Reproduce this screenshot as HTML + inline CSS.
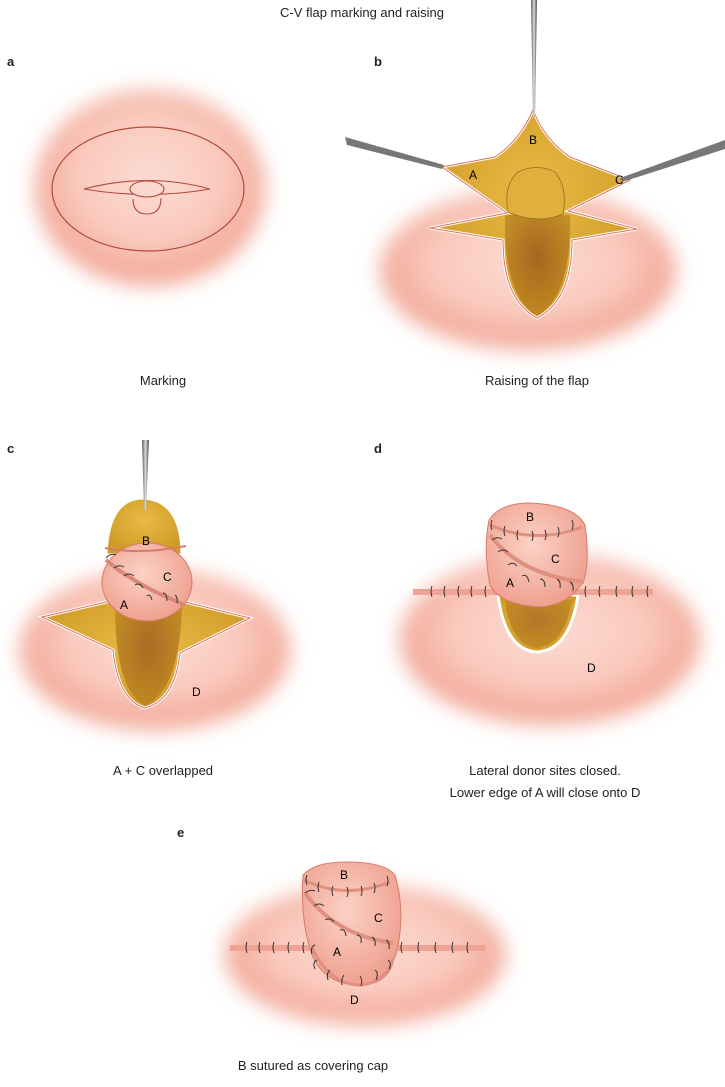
<!DOCTYPE html>
<html><head><meta charset="utf-8"><style>
html,body{margin:0;padding:0;background:#fff;}
svg{display:block;font-family:"Liberation Sans",sans-serif;}
</style></head><body>
<svg width="725" height="1087" viewBox="0 0 725 1087" xmlns="http://www.w3.org/2000/svg">
<defs>
<filter id="bl" x="-30%" y="-30%" width="160%" height="160%"><feGaussianBlur stdDeviation="10"/></filter>
<radialGradient id="sk" cx="50%" cy="45%" r="50%"><stop offset="0" stop-color="#fcdcd3"/><stop offset="0.65" stop-color="#fac9bd"/><stop offset="1" stop-color="#f2a898"/></radialGradient>
<radialGradient id="fat" cx="50%" cy="40%" r="60%"><stop offset="0" stop-color="#e8bb45"/><stop offset="1" stop-color="#cf9a26"/></radialGradient>
<radialGradient id="dk" cx="50%" cy="40%" r="60%"><stop offset="0" stop-color="#8e4a16"/><stop offset="1" stop-color="#b9801e"/></radialGradient>
<radialGradient id="fl" cx="45%" cy="40%" r="65%"><stop offset="0" stop-color="#fbd2c6"/><stop offset="1" stop-color="#ee9d8c"/></radialGradient>
<linearGradient id="inst" x1="0" x2="1"><stop offset="0" stop-color="#555"/><stop offset="0.5" stop-color="#ddd"/><stop offset="1" stop-color="#444"/></linearGradient>
</defs>
<g font-size="13" fill="#222">
<text x="362" y="17" text-anchor="middle">C-V flap marking and raising</text>
<text x="7" y="66" font-weight="bold">a</text>
<text x="374" y="66" font-weight="bold">b</text>
<text x="7" y="453" font-weight="bold">c</text>
<text x="374" y="453" font-weight="bold">d</text>
<text x="177" y="837" font-weight="bold">e</text>
<text x="163" y="385" text-anchor="middle">Marking</text>
<text x="537" y="385" text-anchor="middle">Raising of the flap</text>
<text x="163" y="775" text-anchor="middle">A + C overlapped</text>
<text x="545" y="775" text-anchor="middle">Lateral donor sites closed.</text>
<text x="545" y="797" text-anchor="middle">Lower edge of A will close onto D</text>
<text x="313" y="1070" text-anchor="middle">B sutured as covering cap</text>
</g>

<!-- a -->
<ellipse cx="150" cy="188" rx="115" ry="98" fill="url(#sk)" filter="url(#bl)"/>
<ellipse cx="148" cy="189" rx="96" ry="62" fill="none" stroke="#b24a3c" stroke-width="1.2"/>
<path d="M84 189 Q148 172 210 189 Q148 200 84 189Z" fill="none" stroke="#b24a3c" stroke-width="1.1"/>
<ellipse cx="147" cy="189" rx="17" ry="8" fill="#fbd8ce" stroke="#b24a3c" stroke-width="1.1"/>
<path d="M133 199 Q133 214 147 214 Q161 214 161 198" fill="none" stroke="#b24a3c" stroke-width="1.1"/>

<!-- b -->
<ellipse cx="528" cy="270" rx="148" ry="80" fill="url(#sk)" filter="url(#bl)"/>
<path id="bstar" d="M442 167 L495 157 Q520 140 533 110 Q545 140 570 157 L630 180 L568 211 L637 229 L572 240 Q572 300 537 318 Q503 300 503 240 L430 228 L507 213Z" fill="url(#fat)" stroke="#fff" stroke-width="3"/>
<path d="M442 167 L495 157 Q520 140 533 110 Q545 140 570 157 L630 180 L568 211 L637 229 L572 240 Q572 300 537 318 Q503 300 503 240 L430 228 L507 213Z" fill="none" stroke="#d9755e" stroke-width="1"/>
<path d="M505 215 L570 215 Q572 295 537 316 Q503 295 505 215Z" fill="url(#dk)" opacity="0.7"/>
<path d="M508 212 Q503 185 518 172 Q537 163 555 172 Q568 188 563 214 Q537 225 508 212Z" fill="#e0b03e" stroke="#9b6a1e" stroke-width="0.8"/>
<text x="529" y="144" font-size="12">B</text><text x="469" y="179" font-size="12">A</text><text x="615" y="184" font-size="12">C</text>
<polygon points="531,0 537,0 535,118 533,118" fill="url(#inst)"/>
<polygon points="345,137 347,145 442,169 444,165" fill="#777"/>
<polygon points="725,140 725,149 622,182 620,178" fill="#777"/>

<!-- c -->
<ellipse cx="155" cy="650" rx="135" ry="80" fill="url(#sk)" filter="url(#bl)"/>
<path d="M42 617 L115 600 L185 602 L250 618 L180 653 Q175 700 145 708 Q118 700 113 650Z" fill="url(#fat)" stroke="#fff" stroke-width="3"/>
<path d="M42 617 L115 600 L185 602 L250 618 L180 653 Q175 700 145 708 Q118 700 113 650Z" fill="none" stroke="#d9755e" stroke-width="1"/>
<path d="M115 605 L182 605 Q180 690 145 706 Q115 690 115 605Z" fill="url(#dk)" opacity="0.7"/>
<path d="M106 555 Q108 498 143 498 Q182 500 182 555Z" fill="url(#fat)" stroke="#fff" stroke-width="3"/>
<ellipse cx="147" cy="582" rx="45" ry="39" fill="url(#fl)" stroke="#d97b68" stroke-width="1"/>
<path d="M105 548 Q140 555 186 546" fill="none" stroke="#d97b68" stroke-width="2"/>
<path d="M106 560 Q135 585 185 605" fill="none" stroke="#d98878" stroke-width="4"/>
<g fill="none" stroke="#333" stroke-width="1"><path d="M106 558 q4 -5 10 -3"/><path d="M114 568 q5 -4 10 -1"/><path d="M124 576 q5 -4 10 0"/><path d="M135 585 q5 -3 8 3"/><path d="M147 596 q3 -3 5 4"/><path d="M163 593 q4 0 4 8"/><path d="M175 595 q3 2 2 8"/></g>
<text x="142" y="545" font-size="12">B</text><text x="163" y="581" font-size="12">C</text><text x="120" y="609" font-size="12">A</text><text x="192" y="696" font-size="12">D</text>
<polygon points="142,440 149,440 146,510 144,510" fill="url(#inst)"/>

<!-- d -->
<ellipse cx="550" cy="640" rx="150" ry="85" fill="url(#sk)" filter="url(#bl)"/>
<path d="M498 595 L578 595 Q570 650 537 652 Q505 650 498 595Z" fill="url(#fat)" stroke="#fff" stroke-width="3"/>
<path d="M505 600 L572 600 Q565 645 537 648 Q510 645 505 600Z" fill="url(#dk)" opacity="0.6"/>
<rect x="413" y="589" width="240" height="6" fill="#eea394"/>
<g stroke="#333" stroke-width="1" fill="none"><path d="M432 586 q-2 5 0 11"/><path d="M445 586 q-2 5 0 11"/><path d="M459 586 q-2 5 0 11"/><path d="M472 586 q-2 5 0 11"/><path d="M486 586 q-2 5 0 11"/><path d="M586 586 q-2 5 0 11"/><path d="M600 586 q-2 5 0 11"/><path d="M617 586 q-2 5 0 11"/><path d="M633 586 q-2 5 0 11"/><path d="M648 586 q-2 5 0 11"/></g>
<path d="M489 520 Q500 503 530 503 Q575 505 585 525 Q590 560 584 580 Q570 605 540 607 Q500 605 490 585 Q483 550 489 520Z" fill="url(#fl)" stroke="#d97b68" stroke-width="1"/>
<path d="M490 525 Q535 545 582 527" fill="none" stroke="#e0907f" stroke-width="3"/>
<path d="M490 535 Q520 575 584 582" fill="none" stroke="#e0907f" stroke-width="4"/>
<g stroke="#333" stroke-width="1" fill="none"><path d="M492 520 q-2 5 0 10"/><path d="M505 526 q-2 5 0 10"/><path d="M518 530 q-2 5 0 10"/><path d="M532 531 q2 5 0 10"/><path d="M545 530 q2 5 0 10"/><path d="M558 527 q2 5 0 10"/><path d="M572 520 q2 5 0 10"/><path d="M492 540 q5 -4 10 -1"/><path d="M498 552 q5 -4 10 0"/><path d="M508 565 q5 -4 9 1"/><path d="M522 576 q5 -3 7 6"/><path d="M540 579 q5 0 5 8"/><path d="M557 579 q4 2 3 9"/><path d="M570 582 q4 2 3 9"/></g>
<text x="526" y="521" font-size="12">B</text><text x="551" y="563" font-size="12">C</text><text x="506" y="587" font-size="12">A</text><text x="587" y="672" font-size="12">D</text>

<!-- e -->
<ellipse cx="365" cy="955" rx="140" ry="70" fill="url(#sk)" filter="url(#bl)"/>
<rect x="230" y="945" width="255" height="6" fill="#eea394"/>
<g stroke="#333" stroke-width="1" fill="none"><path d="M247 942 q-2 5 0 11"/><path d="M260 942 q-2 5 0 11"/><path d="M274 942 q-2 5 0 11"/><path d="M289 942 q-2 5 0 11"/><path d="M304 942 q-2 5 0 11"/><path d="M402 942 q-2 5 0 11"/><path d="M419 942 q-2 5 0 11"/><path d="M436 942 q-2 5 0 11"/><path d="M453 942 q-2 5 0 11"/><path d="M468 942 q-2 5 0 11"/></g>
<path d="M303 875 Q315 862 345 862 Q385 862 395 875 Q405 910 398 945 Q392 980 360 985 Q325 985 312 955 Q300 920 303 875Z" fill="url(#fl)" stroke="#d97b68" stroke-width="1"/>
<path d="M304 880 Q345 900 390 882" fill="none" stroke="#e0907f" stroke-width="3"/>
<path d="M305 893 Q335 935 393 943" fill="none" stroke="#e0907f" stroke-width="4"/>
<path d="M312 948 Q330 985 360 985 Q390 982 393 958" fill="none" stroke="#e0907f" stroke-width="3"/>
<g stroke="#333" stroke-width="1" fill="none">
<path d="M307 875 q-2 5 0 10"/><path d="M319 882 q-2 5 0 10"/><path d="M333 886 q-2 5 0 10"/><path d="M347 887 q2 5 0 10"/><path d="M361 886 q2 5 0 10"/><path d="M374 883 q2 5 0 10"/><path d="M387 876 q2 5 0 10"/>
<path d="M305 893 q5 -4 10 -2"/><path d="M314 906 q5 -4 10 0"/><path d="M325 920 q5 -3 9 2"/><path d="M340 930 q5 -2 6 6"/><path d="M357 935 q5 0 4 8"/><path d="M372 937 q4 2 3 9"/><path d="M386 940 q4 2 3 9"/>
<path d="M315 945 q-5 2 -3 9"/><path d="M317 960 q-5 2 -2 9"/><path d="M330 970 q-4 3 -2 10"/><path d="M344 975 q-3 4 -2 10"/><path d="M360 976 q3 4 1 10"/><path d="M375 970 q4 3 1 10"/><path d="M388 960 q4 3 1 9"/>
</g>
<text x="340" y="879" font-size="12">B</text>
<text x="374" y="922" font-size="12">C</text>
<text x="333" y="956" font-size="12">A</text>
<text x="350" y="1004" font-size="12">D</text>
</svg>
</body></html>
